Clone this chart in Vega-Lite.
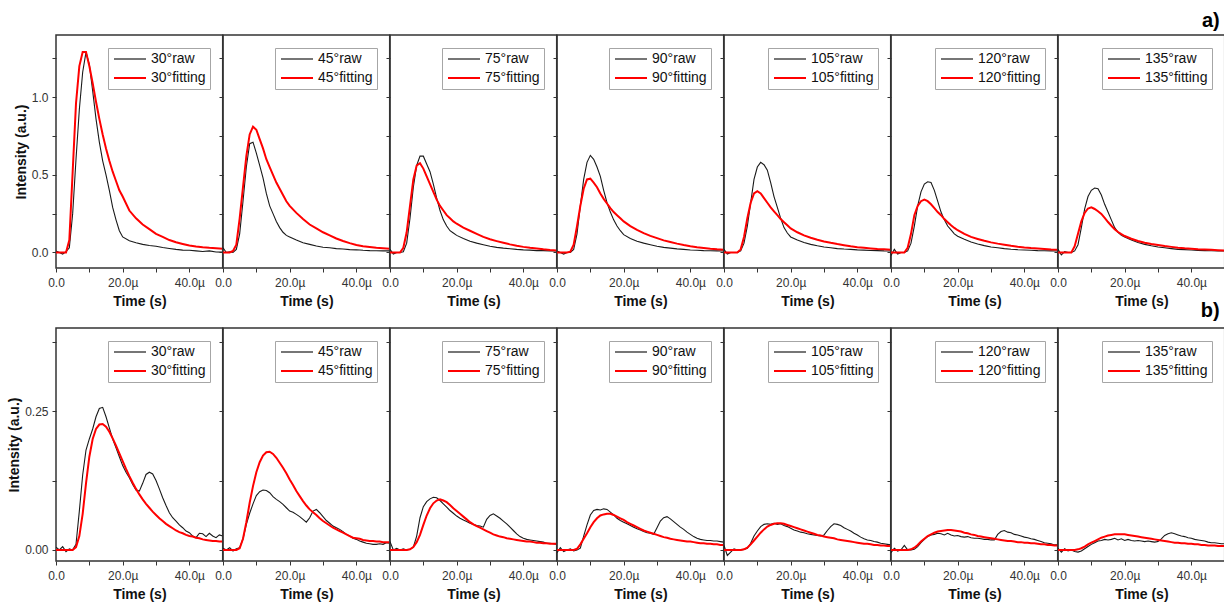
{
"$schema": "https://vega.github.io/schema/vega-lite/v6.json",
"background": "white",
"padding": {"left": 6, "top": 10, "right": 0, "bottom": 0},
"bounds": "flush",
"columns": 7,
"spacing": {"row": 60, "column": 0},
"resolve": {"scale": {"x": "independent", "y": "independent", "color": "independent"}, "legend": {"color": "independent"}},
"datasets": {"curves": [
{"p":"a30","t":0,"raw":0.01,"fitting":0},{"p":"a30","t":1,"raw":0.0,"fitting":0},{"p":"a30","t":2,"raw":-0.01,"fitting":0},{"p":"a30","t":3,"raw":0.005,"fitting":0},{"p":"a30","t":4,"raw":0.03,"fitting":0.08},{"p":"a30","t":5,"raw":0.25,"fitting":0.52},{"p":"a30","t":6,"raw":0.6,"fitting":0.96},{"p":"a30","t":7,"raw":0.92,"fitting":1.2},{"p":"a30","t":8,"raw":1.16,"fitting":1.29},{"p":"a30","t":9,"raw":1.29,"fitting":1.29},{"p":"a30","t":10,"raw":1.21,"fitting":1.2},{"p":"a30","t":11,"raw":1.04,"fitting":1.09},{"p":"a30","t":12,"raw":0.86,"fitting":0.97},{"p":"a30","t":13,"raw":0.71,"fitting":0.86},{"p":"a30","t":14,"raw":0.59,"fitting":0.76},{"p":"a30","t":15,"raw":0.5,"fitting":0.67},{"p":"a30","t":16,"raw":0.4,"fitting":0.59},{"p":"a30","t":17,"raw":0.29,"fitting":0.52},{"p":"a30","t":18,"raw":0.21,"fitting":0.46},{"p":"a30","t":19,"raw":0.14,"fitting":0.4},{"p":"a30","t":20,"raw":0.1,"fitting":0.36},{"p":"a30","t":22,"raw":0.075,"fitting":0.27},{"p":"a30","t":24,"raw":0.062,"fitting":0.22},{"p":"a30","t":26,"raw":0.052,"fitting":0.18},{"p":"a30","t":28,"raw":0.045,"fitting":0.15},{"p":"a30","t":30,"raw":0.04,"fitting":0.12},{"p":"a30","t":32,"raw":0.032,"fitting":0.1},{"p":"a30","t":34,"raw":0.026,"fitting":0.08},{"p":"a30","t":36,"raw":0.02,"fitting":0.066},{"p":"a30","t":38,"raw":0.015,"fitting":0.055},{"p":"a30","t":40,"raw":0.014,"fitting":0.045},{"p":"a30","t":42,"raw":0.01,"fitting":0.039},{"p":"a30","t":44,"raw":0.006,"fitting":0.034},{"p":"a30","t":46,"raw":0.01,"fitting":0.03},{"p":"a30","t":48,"raw":0.003,"fitting":0.027},{"p":"a30","t":50,"raw":0.002,"fitting":0.024},
{"p":"a45","t":0,"raw":0.03,"fitting":0},{"p":"a45","t":1,"raw":0.0,"fitting":0},{"p":"a45","t":2,"raw":0.005,"fitting":0},{"p":"a45","t":3,"raw":0.0,"fitting":0.01},{"p":"a45","t":4,"raw":0.02,"fitting":0.05},{"p":"a45","t":5,"raw":0.12,"fitting":0.22},{"p":"a45","t":6,"raw":0.33,"fitting":0.42},{"p":"a45","t":7,"raw":0.55,"fitting":0.62},{"p":"a45","t":8,"raw":0.7,"fitting":0.76},{"p":"a45","t":9,"raw":0.71,"fitting":0.81},{"p":"a45","t":10,"raw":0.64,"fitting":0.79},{"p":"a45","t":11,"raw":0.56,"fitting":0.73},{"p":"a45","t":12,"raw":0.48,"fitting":0.67},{"p":"a45","t":13,"raw":0.38,"fitting":0.6},{"p":"a45","t":14,"raw":0.3,"fitting":0.55},{"p":"a45","t":15,"raw":0.25,"fitting":0.5},{"p":"a45","t":16,"raw":0.2,"fitting":0.45},{"p":"a45","t":17,"raw":0.16,"fitting":0.41},{"p":"a45","t":18,"raw":0.13,"fitting":0.37},{"p":"a45","t":19,"raw":0.11,"fitting":0.33},{"p":"a45","t":20,"raw":0.1,"fitting":0.3},{"p":"a45","t":22,"raw":0.08,"fitting":0.255},{"p":"a45","t":24,"raw":0.063,"fitting":0.215},{"p":"a45","t":26,"raw":0.052,"fitting":0.18},{"p":"a45","t":28,"raw":0.042,"fitting":0.155},{"p":"a45","t":30,"raw":0.034,"fitting":0.13},{"p":"a45","t":32,"raw":0.03,"fitting":0.11},{"p":"a45","t":34,"raw":0.025,"fitting":0.09},{"p":"a45","t":36,"raw":0.022,"fitting":0.074},{"p":"a45","t":38,"raw":0.018,"fitting":0.06},{"p":"a45","t":40,"raw":0.017,"fitting":0.048},{"p":"a45","t":42,"raw":0.014,"fitting":0.04},{"p":"a45","t":44,"raw":0.012,"fitting":0.035},{"p":"a45","t":46,"raw":0.011,"fitting":0.03},{"p":"a45","t":48,"raw":0.01,"fitting":0.027},{"p":"a45","t":50,"raw":0.01,"fitting":0.024},
{"p":"a75","t":0,"raw":0.02,"fitting":0},{"p":"a75","t":1,"raw":-0.01,"fitting":0},{"p":"a75","t":2,"raw":0.0,"fitting":0},{"p":"a75","t":3,"raw":0.0,"fitting":0},{"p":"a75","t":4,"raw":0.005,"fitting":0.03},{"p":"a75","t":5,"raw":0.06,"fitting":0.13},{"p":"a75","t":6,"raw":0.22,"fitting":0.3},{"p":"a75","t":7,"raw":0.42,"fitting":0.47},{"p":"a75","t":8,"raw":0.56,"fitting":0.56},{"p":"a75","t":9,"raw":0.62,"fitting":0.575},{"p":"a75","t":10,"raw":0.62,"fitting":0.54},{"p":"a75","t":11,"raw":0.57,"fitting":0.49},{"p":"a75","t":12,"raw":0.52,"fitting":0.44},{"p":"a75","t":13,"raw":0.44,"fitting":0.39},{"p":"a75","t":14,"raw":0.35,"fitting":0.34},{"p":"a75","t":15,"raw":0.27,"fitting":0.3},{"p":"a75","t":16,"raw":0.21,"fitting":0.27},{"p":"a75","t":17,"raw":0.17,"fitting":0.24},{"p":"a75","t":18,"raw":0.14,"fitting":0.22},{"p":"a75","t":19,"raw":0.125,"fitting":0.2},{"p":"a75","t":20,"raw":0.11,"fitting":0.185},{"p":"a75","t":22,"raw":0.09,"fitting":0.16},{"p":"a75","t":24,"raw":0.072,"fitting":0.14},{"p":"a75","t":26,"raw":0.06,"fitting":0.12},{"p":"a75","t":28,"raw":0.05,"fitting":0.1},{"p":"a75","t":30,"raw":0.04,"fitting":0.085},{"p":"a75","t":32,"raw":0.033,"fitting":0.073},{"p":"a75","t":34,"raw":0.028,"fitting":0.062},{"p":"a75","t":36,"raw":0.024,"fitting":0.052},{"p":"a75","t":38,"raw":0.02,"fitting":0.043},{"p":"a75","t":40,"raw":0.017,"fitting":0.036},{"p":"a75","t":42,"raw":0.015,"fitting":0.03},{"p":"a75","t":44,"raw":0.012,"fitting":0.025},{"p":"a75","t":46,"raw":0.012,"fitting":0.02},{"p":"a75","t":48,"raw":0.01,"fitting":0.016},{"p":"a75","t":50,"raw":0.01,"fitting":0.013},
{"p":"a90","t":0,"raw":0.01,"fitting":0},{"p":"a90","t":1,"raw":0.0,"fitting":0},{"p":"a90","t":2,"raw":-0.01,"fitting":0},{"p":"a90","t":3,"raw":0.0,"fitting":0},{"p":"a90","t":4,"raw":0.0,"fitting":0.005},{"p":"a90","t":5,"raw":0.02,"fitting":0.05},{"p":"a90","t":6,"raw":0.12,"fitting":0.17},{"p":"a90","t":7,"raw":0.3,"fitting":0.3},{"p":"a90","t":8,"raw":0.47,"fitting":0.41},{"p":"a90","t":9,"raw":0.58,"fitting":0.47},{"p":"a90","t":10,"raw":0.625,"fitting":0.475},{"p":"a90","t":11,"raw":0.6,"fitting":0.45},{"p":"a90","t":12,"raw":0.55,"fitting":0.42},{"p":"a90","t":13,"raw":0.49,"fitting":0.38},{"p":"a90","t":14,"raw":0.4,"fitting":0.345},{"p":"a90","t":15,"raw":0.32,"fitting":0.315},{"p":"a90","t":16,"raw":0.26,"fitting":0.285},{"p":"a90","t":17,"raw":0.21,"fitting":0.26},{"p":"a90","t":18,"raw":0.17,"fitting":0.24},{"p":"a90","t":19,"raw":0.14,"fitting":0.22},{"p":"a90","t":20,"raw":0.115,"fitting":0.2},{"p":"a90","t":22,"raw":0.09,"fitting":0.17},{"p":"a90","t":24,"raw":0.072,"fitting":0.145},{"p":"a90","t":26,"raw":0.06,"fitting":0.125},{"p":"a90","t":28,"raw":0.05,"fitting":0.107},{"p":"a90","t":30,"raw":0.04,"fitting":0.092},{"p":"a90","t":32,"raw":0.033,"fitting":0.078},{"p":"a90","t":34,"raw":0.028,"fitting":0.067},{"p":"a90","t":36,"raw":0.023,"fitting":0.057},{"p":"a90","t":38,"raw":0.02,"fitting":0.048},{"p":"a90","t":40,"raw":0.016,"fitting":0.04},{"p":"a90","t":42,"raw":0.014,"fitting":0.034},{"p":"a90","t":44,"raw":0.012,"fitting":0.029},{"p":"a90","t":46,"raw":0.011,"fitting":0.024},{"p":"a90","t":48,"raw":0.01,"fitting":0.02},{"p":"a90","t":50,"raw":0.009,"fitting":0.017},
{"p":"a105","t":0,"raw":0.02,"fitting":0},{"p":"a105","t":1,"raw":-0.01,"fitting":0},{"p":"a105","t":2,"raw":0.0,"fitting":0},{"p":"a105","t":3,"raw":0.0,"fitting":0},{"p":"a105","t":4,"raw":0.0,"fitting":0},{"p":"a105","t":5,"raw":0.01,"fitting":0.02},{"p":"a105","t":6,"raw":0.06,"fitting":0.1},{"p":"a105","t":7,"raw":0.17,"fitting":0.22},{"p":"a105","t":8,"raw":0.32,"fitting":0.32},{"p":"a105","t":9,"raw":0.47,"fitting":0.38},{"p":"a105","t":10,"raw":0.55,"fitting":0.395},{"p":"a105","t":11,"raw":0.58,"fitting":0.38},{"p":"a105","t":12,"raw":0.565,"fitting":0.35},{"p":"a105","t":13,"raw":0.53,"fitting":0.32},{"p":"a105","t":14,"raw":0.45,"fitting":0.29},{"p":"a105","t":15,"raw":0.36,"fitting":0.265},{"p":"a105","t":16,"raw":0.29,"fitting":0.24},{"p":"a105","t":17,"raw":0.22,"fitting":0.215},{"p":"a105","t":18,"raw":0.16,"fitting":0.195},{"p":"a105","t":19,"raw":0.125,"fitting":0.175},{"p":"a105","t":20,"raw":0.1,"fitting":0.155},{"p":"a105","t":22,"raw":0.08,"fitting":0.13},{"p":"a105","t":24,"raw":0.064,"fitting":0.11},{"p":"a105","t":26,"raw":0.052,"fitting":0.095},{"p":"a105","t":28,"raw":0.043,"fitting":0.082},{"p":"a105","t":30,"raw":0.035,"fitting":0.071},{"p":"a105","t":32,"raw":0.03,"fitting":0.062},{"p":"a105","t":34,"raw":0.025,"fitting":0.054},{"p":"a105","t":36,"raw":0.022,"fitting":0.047},{"p":"a105","t":38,"raw":0.02,"fitting":0.04},{"p":"a105","t":40,"raw":0.017,"fitting":0.034},{"p":"a105","t":42,"raw":0.015,"fitting":0.03},{"p":"a105","t":44,"raw":0.013,"fitting":0.026},{"p":"a105","t":46,"raw":0.012,"fitting":0.022},{"p":"a105","t":48,"raw":0.01,"fitting":0.02},{"p":"a105","t":50,"raw":0.009,"fitting":0.017},
{"p":"a120","t":0,"raw":-0.02,"fitting":0},{"p":"a120","t":1,"raw":0.02,"fitting":0},{"p":"a120","t":2,"raw":-0.01,"fitting":0},{"p":"a120","t":3,"raw":0.0,"fitting":0},{"p":"a120","t":4,"raw":0.0,"fitting":0},{"p":"a120","t":5,"raw":0.01,"fitting":0.03},{"p":"a120","t":6,"raw":0.06,"fitting":0.12},{"p":"a120","t":7,"raw":0.17,"fitting":0.24},{"p":"a120","t":8,"raw":0.3,"fitting":0.3},{"p":"a120","t":9,"raw":0.39,"fitting":0.33},{"p":"a120","t":10,"raw":0.44,"fitting":0.34},{"p":"a120","t":11,"raw":0.455,"fitting":0.33},{"p":"a120","t":12,"raw":0.45,"fitting":0.31},{"p":"a120","t":13,"raw":0.4,"fitting":0.285},{"p":"a120","t":14,"raw":0.33,"fitting":0.26},{"p":"a120","t":15,"raw":0.26,"fitting":0.24},{"p":"a120","t":16,"raw":0.21,"fitting":0.215},{"p":"a120","t":17,"raw":0.17,"fitting":0.195},{"p":"a120","t":18,"raw":0.145,"fitting":0.175},{"p":"a120","t":19,"raw":0.12,"fitting":0.158},{"p":"a120","t":20,"raw":0.105,"fitting":0.143},{"p":"a120","t":22,"raw":0.085,"fitting":0.12},{"p":"a120","t":24,"raw":0.068,"fitting":0.1},{"p":"a120","t":26,"raw":0.055,"fitting":0.087},{"p":"a120","t":28,"raw":0.044,"fitting":0.075},{"p":"a120","t":30,"raw":0.035,"fitting":0.065},{"p":"a120","t":32,"raw":0.03,"fitting":0.057},{"p":"a120","t":34,"raw":0.025,"fitting":0.05},{"p":"a120","t":36,"raw":0.021,"fitting":0.043},{"p":"a120","t":38,"raw":0.018,"fitting":0.037},{"p":"a120","t":40,"raw":0.016,"fitting":0.032},{"p":"a120","t":42,"raw":0.014,"fitting":0.028},{"p":"a120","t":44,"raw":0.012,"fitting":0.025},{"p":"a120","t":46,"raw":0.011,"fitting":0.022},{"p":"a120","t":48,"raw":0.01,"fitting":0.019},{"p":"a120","t":50,"raw":0.009,"fitting":0.017},
{"p":"a135","t":0,"raw":0.02,"fitting":0},{"p":"a135","t":1,"raw":-0.015,"fitting":0},{"p":"a135","t":2,"raw":0.005,"fitting":0},{"p":"a135","t":3,"raw":0.0,"fitting":0},{"p":"a135","t":4,"raw":0.0,"fitting":0},{"p":"a135","t":5,"raw":0.01,"fitting":0.04},{"p":"a135","t":6,"raw":0.05,"fitting":0.12},{"p":"a135","t":7,"raw":0.16,"fitting":0.2},{"p":"a135","t":8,"raw":0.28,"fitting":0.255},{"p":"a135","t":9,"raw":0.36,"fitting":0.283},{"p":"a135","t":10,"raw":0.4,"fitting":0.29},{"p":"a135","t":11,"raw":0.415,"fitting":0.28},{"p":"a135","t":12,"raw":0.41,"fitting":0.265},{"p":"a135","t":13,"raw":0.37,"fitting":0.248},{"p":"a135","t":14,"raw":0.31,"fitting":0.222},{"p":"a135","t":15,"raw":0.26,"fitting":0.196},{"p":"a135","t":16,"raw":0.21,"fitting":0.172},{"p":"a135","t":17,"raw":0.16,"fitting":0.15},{"p":"a135","t":18,"raw":0.13,"fitting":0.132},{"p":"a135","t":19,"raw":0.11,"fitting":0.118},{"p":"a135","t":20,"raw":0.1,"fitting":0.106},{"p":"a135","t":22,"raw":0.08,"fitting":0.088},{"p":"a135","t":24,"raw":0.064,"fitting":0.074},{"p":"a135","t":26,"raw":0.052,"fitting":0.063},{"p":"a135","t":28,"raw":0.043,"fitting":0.055},{"p":"a135","t":30,"raw":0.035,"fitting":0.048},{"p":"a135","t":32,"raw":0.03,"fitting":0.041},{"p":"a135","t":34,"raw":0.025,"fitting":0.036},{"p":"a135","t":36,"raw":0.02,"fitting":0.031},{"p":"a135","t":38,"raw":0.018,"fitting":0.027},{"p":"a135","t":40,"raw":0.016,"fitting":0.024},{"p":"a135","t":42,"raw":0.013,"fitting":0.021},{"p":"a135","t":44,"raw":0.012,"fitting":0.019},{"p":"a135","t":46,"raw":0.011,"fitting":0.017},{"p":"a135","t":48,"raw":0.01,"fitting":0.015},{"p":"a135","t":50,"raw":0.009,"fitting":0.013},
{"p":"b30","t":0,"raw":0.005,"fitting":0},{"p":"b30","t":1,"raw":0.0,"fitting":0},{"p":"b30","t":2,"raw":0.006,"fitting":0},{"p":"b30","t":3,"raw":-0.003,"fitting":0},{"p":"b30","t":4,"raw":0.002,"fitting":0},{"p":"b30","t":5,"raw":0.0,"fitting":0},{"p":"b30","t":6,"raw":0.01,"fitting":0.005},{"p":"b30","t":7,"raw":0.07,"fitting":0.025},{"p":"b30","t":8,"raw":0.135,"fitting":0.065},{"p":"b30","t":9,"raw":0.18,"fitting":0.12},{"p":"b30","t":10,"raw":0.2,"fitting":0.168},{"p":"b30","t":11,"raw":0.218,"fitting":0.2},{"p":"b30","t":12,"raw":0.24,"fitting":0.218},{"p":"b30","t":13,"raw":0.255,"fitting":0.226},{"p":"b30","t":14,"raw":0.257,"fitting":0.227},{"p":"b30","t":15,"raw":0.24,"fitting":0.222},{"p":"b30","t":16,"raw":0.22,"fitting":0.213},{"p":"b30","t":17,"raw":0.2,"fitting":0.201},{"p":"b30","t":18,"raw":0.184,"fitting":0.188},{"p":"b30","t":19,"raw":0.168,"fitting":0.174},{"p":"b30","t":20,"raw":0.152,"fitting":0.16},{"p":"b30","t":21,"raw":0.14,"fitting":0.146},{"p":"b30","t":22,"raw":0.13,"fitting":0.133},{"p":"b30","t":23,"raw":0.118,"fitting":0.121},{"p":"b30","t":24,"raw":0.108,"fitting":0.11},{"p":"b30","t":25,"raw":0.106,"fitting":0.1},{"p":"b30","t":26,"raw":0.12,"fitting":0.091},{"p":"b30","t":27,"raw":0.136,"fitting":0.083},{"p":"b30","t":28,"raw":0.14,"fitting":0.076},{"p":"b30","t":29,"raw":0.137,"fitting":0.069},{"p":"b30","t":30,"raw":0.125,"fitting":0.063},{"p":"b30","t":31,"raw":0.11,"fitting":0.057},{"p":"b30","t":32,"raw":0.094,"fitting":0.052},{"p":"b30","t":33,"raw":0.08,"fitting":0.047},{"p":"b30","t":34,"raw":0.067,"fitting":0.043},{"p":"b30","t":35,"raw":0.058,"fitting":0.039},{"p":"b30","t":36,"raw":0.052,"fitting":0.035},{"p":"b30","t":37,"raw":0.045,"fitting":0.032},{"p":"b30","t":38,"raw":0.04,"fitting":0.03},{"p":"b30","t":39,"raw":0.034,"fitting":0.027},{"p":"b30","t":40,"raw":0.031,"fitting":0.025},{"p":"b30","t":41,"raw":0.025,"fitting":0.024},{"p":"b30","t":42,"raw":0.022,"fitting":0.022},{"p":"b30","t":43,"raw":0.03,"fitting":0.021},{"p":"b30","t":44,"raw":0.029,"fitting":0.019},{"p":"b30","t":45,"raw":0.024,"fitting":0.018},{"p":"b30","t":46,"raw":0.03,"fitting":0.017},{"p":"b30","t":47,"raw":0.025,"fitting":0.016},{"p":"b30","t":48,"raw":0.022,"fitting":0.016},{"p":"b30","t":49,"raw":0.027,"fitting":0.015},{"p":"b30","t":50,"raw":0.025,"fitting":0.015},
{"p":"b45","t":0,"raw":0.003,"fitting":0},{"p":"b45","t":1,"raw":0.0,"fitting":0},{"p":"b45","t":2,"raw":0.004,"fitting":0},{"p":"b45","t":3,"raw":-0.002,"fitting":0},{"p":"b45","t":4,"raw":0.002,"fitting":0},{"p":"b45","t":5,"raw":0.004,"fitting":0.003},{"p":"b45","t":6,"raw":0.02,"fitting":0.02},{"p":"b45","t":7,"raw":0.046,"fitting":0.05},{"p":"b45","t":8,"raw":0.066,"fitting":0.085},{"p":"b45","t":9,"raw":0.083,"fitting":0.115},{"p":"b45","t":10,"raw":0.098,"fitting":0.14},{"p":"b45","t":11,"raw":0.105,"fitting":0.158},{"p":"b45","t":12,"raw":0.108,"fitting":0.17},{"p":"b45","t":13,"raw":0.107,"fitting":0.176},{"p":"b45","t":14,"raw":0.103,"fitting":0.177},{"p":"b45","t":15,"raw":0.096,"fitting":0.173},{"p":"b45","t":16,"raw":0.091,"fitting":0.166},{"p":"b45","t":17,"raw":0.087,"fitting":0.157},{"p":"b45","t":18,"raw":0.082,"fitting":0.148},{"p":"b45","t":19,"raw":0.076,"fitting":0.138},{"p":"b45","t":20,"raw":0.07,"fitting":0.127},{"p":"b45","t":21,"raw":0.068,"fitting":0.117},{"p":"b45","t":22,"raw":0.064,"fitting":0.106},{"p":"b45","t":23,"raw":0.06,"fitting":0.097},{"p":"b45","t":24,"raw":0.055,"fitting":0.088},{"p":"b45","t":25,"raw":0.05,"fitting":0.08},{"p":"b45","t":26,"raw":0.058,"fitting":0.073},{"p":"b45","t":27,"raw":0.07,"fitting":0.068},{"p":"b45","t":28,"raw":0.073,"fitting":0.063},{"p":"b45","t":29,"raw":0.067,"fitting":0.057},{"p":"b45","t":30,"raw":0.06,"fitting":0.052},{"p":"b45","t":31,"raw":0.053,"fitting":0.048},{"p":"b45","t":32,"raw":0.048,"fitting":0.044},{"p":"b45","t":33,"raw":0.043,"fitting":0.04},{"p":"b45","t":34,"raw":0.04,"fitting":0.037},{"p":"b45","t":35,"raw":0.037,"fitting":0.034},{"p":"b45","t":36,"raw":0.033,"fitting":0.031},{"p":"b45","t":37,"raw":0.028,"fitting":0.028},{"p":"b45","t":38,"raw":0.025,"fitting":0.025},{"p":"b45","t":39,"raw":0.021,"fitting":0.022},{"p":"b45","t":40,"raw":0.019,"fitting":0.021},{"p":"b45","t":41,"raw":0.016,"fitting":0.02},{"p":"b45","t":42,"raw":0.014,"fitting":0.018},{"p":"b45","t":43,"raw":0.012,"fitting":0.017},{"p":"b45","t":44,"raw":0.011,"fitting":0.016},{"p":"b45","t":45,"raw":0.01,"fitting":0.016},{"p":"b45","t":46,"raw":0.01,"fitting":0.015},{"p":"b45","t":47,"raw":0.011,"fitting":0.015},{"p":"b45","t":48,"raw":0.01,"fitting":0.014},{"p":"b45","t":49,"raw":0.013,"fitting":0.014},{"p":"b45","t":50,"raw":0.012,"fitting":0.014},
{"p":"b75","t":0,"raw":0.015,"fitting":0},{"p":"b75","t":1,"raw":0.0,"fitting":0},{"p":"b75","t":2,"raw":0.003,"fitting":0},{"p":"b75","t":3,"raw":0.0,"fitting":0},{"p":"b75","t":4,"raw":0.002,"fitting":0},{"p":"b75","t":5,"raw":0.0,"fitting":0},{"p":"b75","t":6,"raw":0.001,"fitting":0.001},{"p":"b75","t":7,"raw":0.005,"fitting":0.005},{"p":"b75","t":8,"raw":0.025,"fitting":0.014},{"p":"b75","t":9,"raw":0.058,"fitting":0.027},{"p":"b75","t":10,"raw":0.078,"fitting":0.045},{"p":"b75","t":11,"raw":0.087,"fitting":0.062},{"p":"b75","t":12,"raw":0.092,"fitting":0.075},{"p":"b75","t":13,"raw":0.095,"fitting":0.084},{"p":"b75","t":14,"raw":0.094,"fitting":0.089},{"p":"b75","t":15,"raw":0.089,"fitting":0.091},{"p":"b75","t":16,"raw":0.083,"fitting":0.089},{"p":"b75","t":17,"raw":0.077,"fitting":0.086},{"p":"b75","t":18,"raw":0.071,"fitting":0.081},{"p":"b75","t":19,"raw":0.066,"fitting":0.075},{"p":"b75","t":20,"raw":0.061,"fitting":0.07},{"p":"b75","t":21,"raw":0.057,"fitting":0.065},{"p":"b75","t":22,"raw":0.054,"fitting":0.06},{"p":"b75","t":23,"raw":0.051,"fitting":0.055},{"p":"b75","t":24,"raw":0.048,"fitting":0.05},{"p":"b75","t":25,"raw":0.046,"fitting":0.046},{"p":"b75","t":26,"raw":0.044,"fitting":0.043},{"p":"b75","t":27,"raw":0.043,"fitting":0.04},{"p":"b75","t":28,"raw":0.041,"fitting":0.037},{"p":"b75","t":29,"raw":0.055,"fitting":0.034},{"p":"b75","t":30,"raw":0.062,"fitting":0.031},{"p":"b75","t":31,"raw":0.065,"fitting":0.028},{"p":"b75","t":32,"raw":0.061,"fitting":0.026},{"p":"b75","t":33,"raw":0.057,"fitting":0.024},{"p":"b75","t":34,"raw":0.052,"fitting":0.023},{"p":"b75","t":35,"raw":0.047,"fitting":0.021},{"p":"b75","t":36,"raw":0.041,"fitting":0.02},{"p":"b75","t":37,"raw":0.035,"fitting":0.019},{"p":"b75","t":38,"raw":0.029,"fitting":0.018},{"p":"b75","t":39,"raw":0.024,"fitting":0.017},{"p":"b75","t":40,"raw":0.021,"fitting":0.016},{"p":"b75","t":41,"raw":0.019,"fitting":0.015},{"p":"b75","t":42,"raw":0.018,"fitting":0.015},{"p":"b75","t":43,"raw":0.017,"fitting":0.014},{"p":"b75","t":44,"raw":0.016,"fitting":0.013},{"p":"b75","t":45,"raw":0.015,"fitting":0.013},{"p":"b75","t":46,"raw":0.014,"fitting":0.012},{"p":"b75","t":47,"raw":0.012,"fitting":0.012},{"p":"b75","t":48,"raw":0.012,"fitting":0.011},{"p":"b75","t":49,"raw":0.011,"fitting":0.011},{"p":"b75","t":50,"raw":0.01,"fitting":0.011},
{"p":"b90","t":0,"raw":-0.005,"fitting":0},{"p":"b90","t":1,"raw":0.004,"fitting":0},{"p":"b90","t":2,"raw":-0.003,"fitting":0},{"p":"b90","t":3,"raw":0.0,"fitting":0},{"p":"b90","t":4,"raw":0.002,"fitting":0},{"p":"b90","t":5,"raw":-0.002,"fitting":0},{"p":"b90","t":6,"raw":0.0,"fitting":0.002},{"p":"b90","t":7,"raw":0.003,"fitting":0.01},{"p":"b90","t":8,"raw":0.025,"fitting":0.02},{"p":"b90","t":9,"raw":0.045,"fitting":0.03},{"p":"b90","t":10,"raw":0.063,"fitting":0.041},{"p":"b90","t":11,"raw":0.071,"fitting":0.05},{"p":"b90","t":12,"raw":0.073,"fitting":0.057},{"p":"b90","t":13,"raw":0.072,"fitting":0.062},{"p":"b90","t":14,"raw":0.074,"fitting":0.064},{"p":"b90","t":15,"raw":0.073,"fitting":0.065},{"p":"b90","t":16,"raw":0.068,"fitting":0.065},{"p":"b90","t":17,"raw":0.063,"fitting":0.063},{"p":"b90","t":18,"raw":0.057,"fitting":0.06},{"p":"b90","t":19,"raw":0.053,"fitting":0.057},{"p":"b90","t":20,"raw":0.05,"fitting":0.054},{"p":"b90","t":21,"raw":0.047,"fitting":0.05},{"p":"b90","t":22,"raw":0.044,"fitting":0.047},{"p":"b90","t":23,"raw":0.041,"fitting":0.044},{"p":"b90","t":24,"raw":0.038,"fitting":0.041},{"p":"b90","t":25,"raw":0.036,"fitting":0.038},{"p":"b90","t":26,"raw":0.033,"fitting":0.035},{"p":"b90","t":27,"raw":0.031,"fitting":0.033},{"p":"b90","t":28,"raw":0.03,"fitting":0.031},{"p":"b90","t":29,"raw":0.028,"fitting":0.029},{"p":"b90","t":30,"raw":0.04,"fitting":0.027},{"p":"b90","t":31,"raw":0.052,"fitting":0.025},{"p":"b90","t":32,"raw":0.058,"fitting":0.023},{"p":"b90","t":33,"raw":0.06,"fitting":0.022},{"p":"b90","t":34,"raw":0.056,"fitting":0.02},{"p":"b90","t":35,"raw":0.051,"fitting":0.019},{"p":"b90","t":36,"raw":0.046,"fitting":0.018},{"p":"b90","t":37,"raw":0.041,"fitting":0.017},{"p":"b90","t":38,"raw":0.037,"fitting":0.016},{"p":"b90","t":39,"raw":0.032,"fitting":0.015},{"p":"b90","t":40,"raw":0.028,"fitting":0.015},{"p":"b90","t":41,"raw":0.024,"fitting":0.014},{"p":"b90","t":42,"raw":0.021,"fitting":0.013},{"p":"b90","t":43,"raw":0.019,"fitting":0.012},{"p":"b90","t":44,"raw":0.018,"fitting":0.012},{"p":"b90","t":45,"raw":0.017,"fitting":0.011},{"p":"b90","t":46,"raw":0.017,"fitting":0.011},{"p":"b90","t":47,"raw":0.016,"fitting":0.01},{"p":"b90","t":48,"raw":0.016,"fitting":0.01},{"p":"b90","t":49,"raw":0.015,"fitting":0.009},{"p":"b90","t":50,"raw":0.014,"fitting":0.009},
{"p":"b105","t":0,"raw":0.008,"fitting":0},{"p":"b105","t":1,"raw":-0.01,"fitting":0},{"p":"b105","t":2,"raw":-0.004,"fitting":0},{"p":"b105","t":3,"raw":0.002,"fitting":0},{"p":"b105","t":4,"raw":0.0,"fitting":0},{"p":"b105","t":5,"raw":0.0,"fitting":0},{"p":"b105","t":6,"raw":0.001,"fitting":0.001},{"p":"b105","t":7,"raw":0.003,"fitting":0.004},{"p":"b105","t":8,"raw":0.012,"fitting":0.01},{"p":"b105","t":9,"raw":0.025,"fitting":0.017},{"p":"b105","t":10,"raw":0.034,"fitting":0.024},{"p":"b105","t":11,"raw":0.042,"fitting":0.031},{"p":"b105","t":12,"raw":0.046,"fitting":0.037},{"p":"b105","t":13,"raw":0.047,"fitting":0.042},{"p":"b105","t":14,"raw":0.046,"fitting":0.045},{"p":"b105","t":15,"raw":0.048,"fitting":0.047},{"p":"b105","t":16,"raw":0.046,"fitting":0.048},{"p":"b105","t":17,"raw":0.047,"fitting":0.048},{"p":"b105","t":18,"raw":0.044,"fitting":0.047},{"p":"b105","t":19,"raw":0.042,"fitting":0.045},{"p":"b105","t":20,"raw":0.039,"fitting":0.043},{"p":"b105","t":21,"raw":0.036,"fitting":0.041},{"p":"b105","t":22,"raw":0.034,"fitting":0.039},{"p":"b105","t":23,"raw":0.032,"fitting":0.037},{"p":"b105","t":24,"raw":0.031,"fitting":0.035},{"p":"b105","t":25,"raw":0.029,"fitting":0.033},{"p":"b105","t":26,"raw":0.028,"fitting":0.031},{"p":"b105","t":27,"raw":0.027,"fitting":0.029},{"p":"b105","t":28,"raw":0.026,"fitting":0.027},{"p":"b105","t":29,"raw":0.025,"fitting":0.026},{"p":"b105","t":30,"raw":0.027,"fitting":0.024},{"p":"b105","t":31,"raw":0.035,"fitting":0.023},{"p":"b105","t":32,"raw":0.042,"fitting":0.022},{"p":"b105","t":33,"raw":0.047,"fitting":0.021},{"p":"b105","t":34,"raw":0.046,"fitting":0.019},{"p":"b105","t":35,"raw":0.044,"fitting":0.018},{"p":"b105","t":36,"raw":0.04,"fitting":0.017},{"p":"b105","t":37,"raw":0.037,"fitting":0.016},{"p":"b105","t":38,"raw":0.034,"fitting":0.015},{"p":"b105","t":39,"raw":0.03,"fitting":0.014},{"p":"b105","t":40,"raw":0.027,"fitting":0.013},{"p":"b105","t":41,"raw":0.023,"fitting":0.012},{"p":"b105","t":42,"raw":0.02,"fitting":0.011},{"p":"b105","t":43,"raw":0.018,"fitting":0.011},{"p":"b105","t":44,"raw":0.017,"fitting":0.01},{"p":"b105","t":45,"raw":0.015,"fitting":0.009},{"p":"b105","t":46,"raw":0.014,"fitting":0.009},{"p":"b105","t":47,"raw":0.012,"fitting":0.008},{"p":"b105","t":48,"raw":0.011,"fitting":0.008},{"p":"b105","t":49,"raw":0.01,"fitting":0.007},{"p":"b105","t":50,"raw":0.009,"fitting":0.007},
{"p":"b120","t":0,"raw":-0.005,"fitting":0},{"p":"b120","t":1,"raw":0.003,"fitting":0},{"p":"b120","t":2,"raw":-0.002,"fitting":0},{"p":"b120","t":3,"raw":0.0,"fitting":0},{"p":"b120","t":4,"raw":0.008,"fitting":0},{"p":"b120","t":5,"raw":0.0,"fitting":0},{"p":"b120","t":6,"raw":0.0,"fitting":0.001},{"p":"b120","t":7,"raw":0.001,"fitting":0.004},{"p":"b120","t":8,"raw":0.006,"fitting":0.009},{"p":"b120","t":9,"raw":0.013,"fitting":0.015},{"p":"b120","t":10,"raw":0.019,"fitting":0.02},{"p":"b120","t":11,"raw":0.024,"fitting":0.025},{"p":"b120","t":12,"raw":0.027,"fitting":0.028},{"p":"b120","t":13,"raw":0.028,"fitting":0.031},{"p":"b120","t":14,"raw":0.03,"fitting":0.033},{"p":"b120","t":15,"raw":0.029,"fitting":0.034},{"p":"b120","t":16,"raw":0.027,"fitting":0.035},{"p":"b120","t":17,"raw":0.03,"fitting":0.036},{"p":"b120","t":18,"raw":0.027,"fitting":0.036},{"p":"b120","t":19,"raw":0.025,"fitting":0.035},{"p":"b120","t":20,"raw":0.026,"fitting":0.034},{"p":"b120","t":21,"raw":0.024,"fitting":0.033},{"p":"b120","t":22,"raw":0.023,"fitting":0.031},{"p":"b120","t":23,"raw":0.024,"fitting":0.03},{"p":"b120","t":24,"raw":0.022,"fitting":0.028},{"p":"b120","t":25,"raw":0.021,"fitting":0.027},{"p":"b120","t":26,"raw":0.021,"fitting":0.025},{"p":"b120","t":27,"raw":0.02,"fitting":0.024},{"p":"b120","t":28,"raw":0.019,"fitting":0.023},{"p":"b120","t":29,"raw":0.019,"fitting":0.022},{"p":"b120","t":30,"raw":0.018,"fitting":0.021},{"p":"b120","t":31,"raw":0.018,"fitting":0.02},{"p":"b120","t":32,"raw":0.028,"fitting":0.019},{"p":"b120","t":33,"raw":0.033,"fitting":0.018},{"p":"b120","t":34,"raw":0.035,"fitting":0.017},{"p":"b120","t":35,"raw":0.032,"fitting":0.016},{"p":"b120","t":36,"raw":0.031,"fitting":0.016},{"p":"b120","t":37,"raw":0.028,"fitting":0.015},{"p":"b120","t":38,"raw":0.027,"fitting":0.014},{"p":"b120","t":39,"raw":0.025,"fitting":0.014},{"p":"b120","t":40,"raw":0.023,"fitting":0.013},{"p":"b120","t":41,"raw":0.022,"fitting":0.013},{"p":"b120","t":42,"raw":0.02,"fitting":0.012},{"p":"b120","t":43,"raw":0.019,"fitting":0.012},{"p":"b120","t":44,"raw":0.017,"fitting":0.011},{"p":"b120","t":45,"raw":0.015,"fitting":0.01},{"p":"b120","t":46,"raw":0.013,"fitting":0.01},{"p":"b120","t":47,"raw":0.012,"fitting":0.009},{"p":"b120","t":48,"raw":0.011,"fitting":0.009},{"p":"b120","t":49,"raw":0.009,"fitting":0.008},{"p":"b120","t":50,"raw":0.009,"fitting":0.008},
{"p":"b135","t":0,"raw":0.003,"fitting":0},{"p":"b135","t":1,"raw":-0.004,"fitting":0},{"p":"b135","t":2,"raw":0.002,"fitting":0},{"p":"b135","t":3,"raw":-0.002,"fitting":0},{"p":"b135","t":4,"raw":0.0,"fitting":0},{"p":"b135","t":5,"raw":-0.003,"fitting":0},{"p":"b135","t":6,"raw":-0.004,"fitting":0.001},{"p":"b135","t":7,"raw":-0.002,"fitting":0.003},{"p":"b135","t":8,"raw":0.002,"fitting":0.006},{"p":"b135","t":9,"raw":0.006,"fitting":0.01},{"p":"b135","t":10,"raw":0.01,"fitting":0.013},{"p":"b135","t":11,"raw":0.013,"fitting":0.016},{"p":"b135","t":12,"raw":0.016,"fitting":0.019},{"p":"b135","t":13,"raw":0.017,"fitting":0.022},{"p":"b135","t":14,"raw":0.019,"fitting":0.024},{"p":"b135","t":15,"raw":0.018,"fitting":0.026},{"p":"b135","t":16,"raw":0.019,"fitting":0.027},{"p":"b135","t":17,"raw":0.021,"fitting":0.028},{"p":"b135","t":18,"raw":0.018,"fitting":0.028},{"p":"b135","t":19,"raw":0.02,"fitting":0.028},{"p":"b135","t":20,"raw":0.017,"fitting":0.028},{"p":"b135","t":21,"raw":0.019,"fitting":0.027},{"p":"b135","t":22,"raw":0.017,"fitting":0.026},{"p":"b135","t":23,"raw":0.016,"fitting":0.025},{"p":"b135","t":24,"raw":0.017,"fitting":0.024},{"p":"b135","t":25,"raw":0.016,"fitting":0.023},{"p":"b135","t":26,"raw":0.015,"fitting":0.022},{"p":"b135","t":27,"raw":0.016,"fitting":0.021},{"p":"b135","t":28,"raw":0.015,"fitting":0.02},{"p":"b135","t":29,"raw":0.014,"fitting":0.019},{"p":"b135","t":30,"raw":0.015,"fitting":0.018},{"p":"b135","t":31,"raw":0.02,"fitting":0.017},{"p":"b135","t":32,"raw":0.026,"fitting":0.016},{"p":"b135","t":33,"raw":0.029,"fitting":0.015},{"p":"b135","t":34,"raw":0.031,"fitting":0.014},{"p":"b135","t":35,"raw":0.029,"fitting":0.013},{"p":"b135","t":36,"raw":0.027,"fitting":0.013},{"p":"b135","t":37,"raw":0.025,"fitting":0.012},{"p":"b135","t":38,"raw":0.024,"fitting":0.012},{"p":"b135","t":39,"raw":0.022,"fitting":0.011},{"p":"b135","t":40,"raw":0.021,"fitting":0.011},{"p":"b135","t":41,"raw":0.019,"fitting":0.01},{"p":"b135","t":42,"raw":0.018,"fitting":0.01},{"p":"b135","t":43,"raw":0.017,"fitting":0.009},{"p":"b135","t":44,"raw":0.016,"fitting":0.009},{"p":"b135","t":45,"raw":0.014,"fitting":0.008},{"p":"b135","t":46,"raw":0.013,"fitting":0.008},{"p":"b135","t":47,"raw":0.013,"fitting":0.008},{"p":"b135","t":48,"raw":0.012,"fitting":0.007},{"p":"b135","t":49,"raw":0.011,"fitting":0.007},{"p":"b135","t":50,"raw":0.011,"fitting":0.007}
]},
"concat": [
  {"width": 166.7, "height": 233, "data": {"name": "curves"}, "transform": [{"filter": "datum.p=='a30'"}, {"fold": ["raw", "fitting"]}], "mark": {"type": "line", "clip": true},
   "encoding": {"x": {"field": "t", "type": "quantitative", "title": "Time (s)", "scale": {"domain": [0, 50], "nice": false}, "axis": {"values": [0, 10, 20, 30, 40], "labelExpr": "datum.value == 0 ? '0.0' : (datum.value % 20 == 0 ? format(datum.value, '.1f') + 'µ' : '')"}},
    "y": {"field": "value", "type": "quantitative", "title": "Intensity (a.u.)", "scale": {"domain": [-0.1, 1.4], "nice": false, "zero": false}, "axis": {"values": [0, 0.25, 0.5, 0.75, 1, 1.25], "labelExpr": "datum.value % 0.5 == 0 ? format(datum.value, '.1f') : ''"}},
    "color": {"field": "key", "type": "nominal", "scale": {"domain": ["raw", "fitting"], "range": ["#1a1a1a", "#ff0000"]}, "legend": {"title": null, "labelExpr": "'30°' + datum.label", "encode": {"symbols": {"update": {"strokeWidth": {"signal": "datum.value == 'fitting' ? 2 : 1.2"}}}}}},
    "strokeWidth": {"condition": {"test": "datum.key == 'fitting'", "value": 2}, "value": 1.1}}},
  {"width": 166.7, "height": 233, "data": {"name": "curves"}, "transform": [{"filter": "datum.p=='a45'"}, {"fold": ["raw", "fitting"]}], "mark": {"type": "line", "clip": true},
   "encoding": {"x": {"field": "t", "type": "quantitative", "title": "Time (s)", "scale": {"domain": [0, 50], "nice": false}, "axis": {"values": [0, 10, 20, 30, 40], "labelExpr": "datum.value == 0 ? '0.0' : (datum.value % 20 == 0 ? format(datum.value, '.1f') + 'µ' : '')"}},
    "y": {"field": "value", "type": "quantitative", "scale": {"domain": [-0.1, 1.4], "nice": false, "zero": false}, "axis": {"title": null, "labels": false, "values": [0, 0.25, 0.5, 0.75, 1, 1.25]}},
    "color": {"field": "key", "type": "nominal", "scale": {"domain": ["raw", "fitting"], "range": ["#1a1a1a", "#ff0000"]}, "legend": {"title": null, "labelExpr": "'45°' + datum.label", "encode": {"symbols": {"update": {"strokeWidth": {"signal": "datum.value == 'fitting' ? 2 : 1.2"}}}}}},
    "strokeWidth": {"condition": {"test": "datum.key == 'fitting'", "value": 2}, "value": 1.1}}},
  {"width": 166.7, "height": 233, "data": {"name": "curves"}, "transform": [{"filter": "datum.p=='a75'"}, {"fold": ["raw", "fitting"]}], "mark": {"type": "line", "clip": true},
   "encoding": {"x": {"field": "t", "type": "quantitative", "title": "Time (s)", "scale": {"domain": [0, 50], "nice": false}, "axis": {"values": [0, 10, 20, 30, 40], "labelExpr": "datum.value == 0 ? '0.0' : (datum.value % 20 == 0 ? format(datum.value, '.1f') + 'µ' : '')"}},
    "y": {"field": "value", "type": "quantitative", "scale": {"domain": [-0.1, 1.4], "nice": false, "zero": false}, "axis": {"title": null, "labels": false, "values": [0, 0.25, 0.5, 0.75, 1, 1.25]}},
    "color": {"field": "key", "type": "nominal", "scale": {"domain": ["raw", "fitting"], "range": ["#1a1a1a", "#ff0000"]}, "legend": {"title": null, "labelExpr": "'75°' + datum.label", "encode": {"symbols": {"update": {"strokeWidth": {"signal": "datum.value == 'fitting' ? 2 : 1.2"}}}}}},
    "strokeWidth": {"condition": {"test": "datum.key == 'fitting'", "value": 2}, "value": 1.1}}},
  {"width": 166.7, "height": 233, "data": {"name": "curves"}, "transform": [{"filter": "datum.p=='a90'"}, {"fold": ["raw", "fitting"]}], "mark": {"type": "line", "clip": true},
   "encoding": {"x": {"field": "t", "type": "quantitative", "title": "Time (s)", "scale": {"domain": [0, 50], "nice": false}, "axis": {"values": [0, 10, 20, 30, 40], "labelExpr": "datum.value == 0 ? '0.0' : (datum.value % 20 == 0 ? format(datum.value, '.1f') + 'µ' : '')"}},
    "y": {"field": "value", "type": "quantitative", "scale": {"domain": [-0.1, 1.4], "nice": false, "zero": false}, "axis": {"title": null, "labels": false, "values": [0, 0.25, 0.5, 0.75, 1, 1.25]}},
    "color": {"field": "key", "type": "nominal", "scale": {"domain": ["raw", "fitting"], "range": ["#1a1a1a", "#ff0000"]}, "legend": {"title": null, "labelExpr": "'90°' + datum.label", "encode": {"symbols": {"update": {"strokeWidth": {"signal": "datum.value == 'fitting' ? 2 : 1.2"}}}}}},
    "strokeWidth": {"condition": {"test": "datum.key == 'fitting'", "value": 2}, "value": 1.1}}},
  {"width": 166.7, "height": 233, "data": {"name": "curves"}, "transform": [{"filter": "datum.p=='a105'"}, {"fold": ["raw", "fitting"]}], "mark": {"type": "line", "clip": true},
   "encoding": {"x": {"field": "t", "type": "quantitative", "title": "Time (s)", "scale": {"domain": [0, 50], "nice": false}, "axis": {"values": [0, 10, 20, 30, 40], "labelExpr": "datum.value == 0 ? '0.0' : (datum.value % 20 == 0 ? format(datum.value, '.1f') + 'µ' : '')"}},
    "y": {"field": "value", "type": "quantitative", "scale": {"domain": [-0.1, 1.4], "nice": false, "zero": false}, "axis": {"title": null, "labels": false, "values": [0, 0.25, 0.5, 0.75, 1, 1.25]}},
    "color": {"field": "key", "type": "nominal", "scale": {"domain": ["raw", "fitting"], "range": ["#1a1a1a", "#ff0000"]}, "legend": {"title": null, "labelExpr": "'105°' + datum.label", "encode": {"symbols": {"update": {"strokeWidth": {"signal": "datum.value == 'fitting' ? 2 : 1.2"}}}}}},
    "strokeWidth": {"condition": {"test": "datum.key == 'fitting'", "value": 2}, "value": 1.1}}},
  {"width": 166.7, "height": 233, "data": {"name": "curves"}, "transform": [{"filter": "datum.p=='a120'"}, {"fold": ["raw", "fitting"]}], "mark": {"type": "line", "clip": true},
   "encoding": {"x": {"field": "t", "type": "quantitative", "title": "Time (s)", "scale": {"domain": [0, 50], "nice": false}, "axis": {"values": [0, 10, 20, 30, 40], "labelExpr": "datum.value == 0 ? '0.0' : (datum.value % 20 == 0 ? format(datum.value, '.1f') + 'µ' : '')"}},
    "y": {"field": "value", "type": "quantitative", "scale": {"domain": [-0.1, 1.4], "nice": false, "zero": false}, "axis": {"title": null, "labels": false, "values": [0, 0.25, 0.5, 0.75, 1, 1.25]}},
    "color": {"field": "key", "type": "nominal", "scale": {"domain": ["raw", "fitting"], "range": ["#1a1a1a", "#ff0000"]}, "legend": {"title": null, "labelExpr": "'120°' + datum.label", "encode": {"symbols": {"update": {"strokeWidth": {"signal": "datum.value == 'fitting' ? 2 : 1.2"}}}}}},
    "strokeWidth": {"condition": {"test": "datum.key == 'fitting'", "value": 2}, "value": 1.1}}},
  {"width": 166.7, "height": 233, "title": {"text": "a)", "anchor": "end", "fontSize": 20, "fontWeight": "bold", "font": "Liberation Sans", "color": "#000", "offset": 4, "dx": -5}, "data": {"name": "curves"}, "transform": [{"filter": "datum.p=='a135'"}, {"fold": ["raw", "fitting"]}], "mark": {"type": "line", "clip": true},
   "encoding": {"x": {"field": "t", "type": "quantitative", "title": "Time (s)", "scale": {"domain": [0, 50], "nice": false}, "axis": {"values": [0, 10, 20, 30, 40], "labelExpr": "datum.value == 0 ? '0.0' : (datum.value % 20 == 0 ? format(datum.value, '.1f') + 'µ' : '')"}},
    "y": {"field": "value", "type": "quantitative", "scale": {"domain": [-0.1, 1.4], "nice": false, "zero": false}, "axis": {"title": null, "labels": false, "values": [0, 0.25, 0.5, 0.75, 1, 1.25]}},
    "color": {"field": "key", "type": "nominal", "scale": {"domain": ["raw", "fitting"], "range": ["#1a1a1a", "#ff0000"]}, "legend": {"title": null, "labelExpr": "'135°' + datum.label", "encode": {"symbols": {"update": {"strokeWidth": {"signal": "datum.value == 'fitting' ? 2 : 1.2"}}}}}},
    "strokeWidth": {"condition": {"test": "datum.key == 'fitting'", "value": 2}, "value": 1.1}}},
  {"width": 166.7, "height": 233, "data": {"name": "curves"}, "transform": [{"filter": "datum.p=='b30'"}, {"fold": ["raw", "fitting"]}], "mark": {"type": "line", "clip": true},
   "encoding": {"x": {"field": "t", "type": "quantitative", "title": "Time (s)", "scale": {"domain": [0, 50], "nice": false}, "axis": {"values": [0, 10, 20, 30, 40], "labelExpr": "datum.value == 0 ? '0.0' : (datum.value % 20 == 0 ? format(datum.value, '.1f') + 'µ' : '')"}},
    "y": {"field": "value", "type": "quantitative", "title": "Intensity (a.u.)", "scale": {"domain": [-0.02, 0.4], "nice": false, "zero": false}, "axis": {"values": [0, 0.125, 0.25, 0.375], "labelExpr": "datum.value % 0.25 == 0 ? format(datum.value, '.2f') : ''"}},
    "color": {"field": "key", "type": "nominal", "scale": {"domain": ["raw", "fitting"], "range": ["#1a1a1a", "#ff0000"]}, "legend": {"title": null, "labelExpr": "'30°' + datum.label", "encode": {"symbols": {"update": {"strokeWidth": {"signal": "datum.value == 'fitting' ? 2 : 1.2"}}}}}},
    "strokeWidth": {"condition": {"test": "datum.key == 'fitting'", "value": 2}, "value": 1.1}}},
  {"width": 166.7, "height": 233, "data": {"name": "curves"}, "transform": [{"filter": "datum.p=='b45'"}, {"fold": ["raw", "fitting"]}], "mark": {"type": "line", "clip": true},
   "encoding": {"x": {"field": "t", "type": "quantitative", "title": "Time (s)", "scale": {"domain": [0, 50], "nice": false}, "axis": {"values": [0, 10, 20, 30, 40], "labelExpr": "datum.value == 0 ? '0.0' : (datum.value % 20 == 0 ? format(datum.value, '.1f') + 'µ' : '')"}},
    "y": {"field": "value", "type": "quantitative", "scale": {"domain": [-0.02, 0.4], "nice": false, "zero": false}, "axis": {"title": null, "labels": false, "values": [0, 0.125, 0.25, 0.375]}},
    "color": {"field": "key", "type": "nominal", "scale": {"domain": ["raw", "fitting"], "range": ["#1a1a1a", "#ff0000"]}, "legend": {"title": null, "labelExpr": "'45°' + datum.label", "encode": {"symbols": {"update": {"strokeWidth": {"signal": "datum.value == 'fitting' ? 2 : 1.2"}}}}}},
    "strokeWidth": {"condition": {"test": "datum.key == 'fitting'", "value": 2}, "value": 1.1}}},
  {"width": 166.7, "height": 233, "data": {"name": "curves"}, "transform": [{"filter": "datum.p=='b75'"}, {"fold": ["raw", "fitting"]}], "mark": {"type": "line", "clip": true},
   "encoding": {"x": {"field": "t", "type": "quantitative", "title": "Time (s)", "scale": {"domain": [0, 50], "nice": false}, "axis": {"values": [0, 10, 20, 30, 40], "labelExpr": "datum.value == 0 ? '0.0' : (datum.value % 20 == 0 ? format(datum.value, '.1f') + 'µ' : '')"}},
    "y": {"field": "value", "type": "quantitative", "scale": {"domain": [-0.02, 0.4], "nice": false, "zero": false}, "axis": {"title": null, "labels": false, "values": [0, 0.125, 0.25, 0.375]}},
    "color": {"field": "key", "type": "nominal", "scale": {"domain": ["raw", "fitting"], "range": ["#1a1a1a", "#ff0000"]}, "legend": {"title": null, "labelExpr": "'75°' + datum.label", "encode": {"symbols": {"update": {"strokeWidth": {"signal": "datum.value == 'fitting' ? 2 : 1.2"}}}}}},
    "strokeWidth": {"condition": {"test": "datum.key == 'fitting'", "value": 2}, "value": 1.1}}},
  {"width": 166.7, "height": 233, "data": {"name": "curves"}, "transform": [{"filter": "datum.p=='b90'"}, {"fold": ["raw", "fitting"]}], "mark": {"type": "line", "clip": true},
   "encoding": {"x": {"field": "t", "type": "quantitative", "title": "Time (s)", "scale": {"domain": [0, 50], "nice": false}, "axis": {"values": [0, 10, 20, 30, 40], "labelExpr": "datum.value == 0 ? '0.0' : (datum.value % 20 == 0 ? format(datum.value, '.1f') + 'µ' : '')"}},
    "y": {"field": "value", "type": "quantitative", "scale": {"domain": [-0.02, 0.4], "nice": false, "zero": false}, "axis": {"title": null, "labels": false, "values": [0, 0.125, 0.25, 0.375]}},
    "color": {"field": "key", "type": "nominal", "scale": {"domain": ["raw", "fitting"], "range": ["#1a1a1a", "#ff0000"]}, "legend": {"title": null, "labelExpr": "'90°' + datum.label", "encode": {"symbols": {"update": {"strokeWidth": {"signal": "datum.value == 'fitting' ? 2 : 1.2"}}}}}},
    "strokeWidth": {"condition": {"test": "datum.key == 'fitting'", "value": 2}, "value": 1.1}}},
  {"width": 166.7, "height": 233, "data": {"name": "curves"}, "transform": [{"filter": "datum.p=='b105'"}, {"fold": ["raw", "fitting"]}], "mark": {"type": "line", "clip": true},
   "encoding": {"x": {"field": "t", "type": "quantitative", "title": "Time (s)", "scale": {"domain": [0, 50], "nice": false}, "axis": {"values": [0, 10, 20, 30, 40], "labelExpr": "datum.value == 0 ? '0.0' : (datum.value % 20 == 0 ? format(datum.value, '.1f') + 'µ' : '')"}},
    "y": {"field": "value", "type": "quantitative", "scale": {"domain": [-0.02, 0.4], "nice": false, "zero": false}, "axis": {"title": null, "labels": false, "values": [0, 0.125, 0.25, 0.375]}},
    "color": {"field": "key", "type": "nominal", "scale": {"domain": ["raw", "fitting"], "range": ["#1a1a1a", "#ff0000"]}, "legend": {"title": null, "labelExpr": "'105°' + datum.label", "encode": {"symbols": {"update": {"strokeWidth": {"signal": "datum.value == 'fitting' ? 2 : 1.2"}}}}}},
    "strokeWidth": {"condition": {"test": "datum.key == 'fitting'", "value": 2}, "value": 1.1}}},
  {"width": 166.7, "height": 233, "data": {"name": "curves"}, "transform": [{"filter": "datum.p=='b120'"}, {"fold": ["raw", "fitting"]}], "mark": {"type": "line", "clip": true},
   "encoding": {"x": {"field": "t", "type": "quantitative", "title": "Time (s)", "scale": {"domain": [0, 50], "nice": false}, "axis": {"values": [0, 10, 20, 30, 40], "labelExpr": "datum.value == 0 ? '0.0' : (datum.value % 20 == 0 ? format(datum.value, '.1f') + 'µ' : '')"}},
    "y": {"field": "value", "type": "quantitative", "scale": {"domain": [-0.02, 0.4], "nice": false, "zero": false}, "axis": {"title": null, "labels": false, "values": [0, 0.125, 0.25, 0.375]}},
    "color": {"field": "key", "type": "nominal", "scale": {"domain": ["raw", "fitting"], "range": ["#1a1a1a", "#ff0000"]}, "legend": {"title": null, "labelExpr": "'120°' + datum.label", "encode": {"symbols": {"update": {"strokeWidth": {"signal": "datum.value == 'fitting' ? 2 : 1.2"}}}}}},
    "strokeWidth": {"condition": {"test": "datum.key == 'fitting'", "value": 2}, "value": 1.1}}},
  {"width": 166.7, "height": 233, "title": {"text": "b)", "anchor": "end", "fontSize": 20, "fontWeight": "bold", "font": "Liberation Sans", "color": "#000", "offset": 7, "dx": -5}, "data": {"name": "curves"}, "transform": [{"filter": "datum.p=='b135'"}, {"fold": ["raw", "fitting"]}], "mark": {"type": "line", "clip": true},
   "encoding": {"x": {"field": "t", "type": "quantitative", "title": "Time (s)", "scale": {"domain": [0, 50], "nice": false}, "axis": {"values": [0, 10, 20, 30, 40], "labelExpr": "datum.value == 0 ? '0.0' : (datum.value % 20 == 0 ? format(datum.value, '.1f') + 'µ' : '')"}},
    "y": {"field": "value", "type": "quantitative", "scale": {"domain": [-0.02, 0.4], "nice": false, "zero": false}, "axis": {"title": null, "labels": false, "values": [0, 0.125, 0.25, 0.375]}},
    "color": {"field": "key", "type": "nominal", "scale": {"domain": ["raw", "fitting"], "range": ["#1a1a1a", "#ff0000"]}, "legend": {"title": null, "labelExpr": "'135°' + datum.label", "encode": {"symbols": {"update": {"strokeWidth": {"signal": "datum.value == 'fitting' ? 2 : 1.2"}}}}}},
    "strokeWidth": {"condition": {"test": "datum.key == 'fitting'", "value": 2}, "value": 1.1}}}
],
"config": {
 "font": "Liberation Sans",
 "view": {"stroke": "#333", "strokeWidth": 1.5},
 "axis": {"domain": false, "grid": false, "tickColor": "#333", "tickSize": 4, "tickWidth": 1, "labelFont": "Liberation Sans", "labelFontSize": 12, "labelColor": "#333", "labelPadding": 4, "labelFlush": false, "labelOverlap": false, "titleFont": "Liberation Sans", "titleFontSize": 14, "titleFontWeight": "bold", "titleColor": "#111"},
 "axisX": {"labelPadding": 5, "titlePadding": 6},
 "axisY": {"titlePadding": 3},
 "legend": {"orient": "top-right", "offset": 13, "padding": 4, "strokeColor": "#a6a6a6", "fillColor": "white", "labelFont": "Liberation Sans", "labelFontSize": 14, "labelColor": "#111", "symbolType": "M-1,0H5.4", "symbolSize": 100, "symbolStrokeWidth": 1.5, "labelOffset": 25, "rowPadding": 5, "cornerRadius": 0}
}
}
